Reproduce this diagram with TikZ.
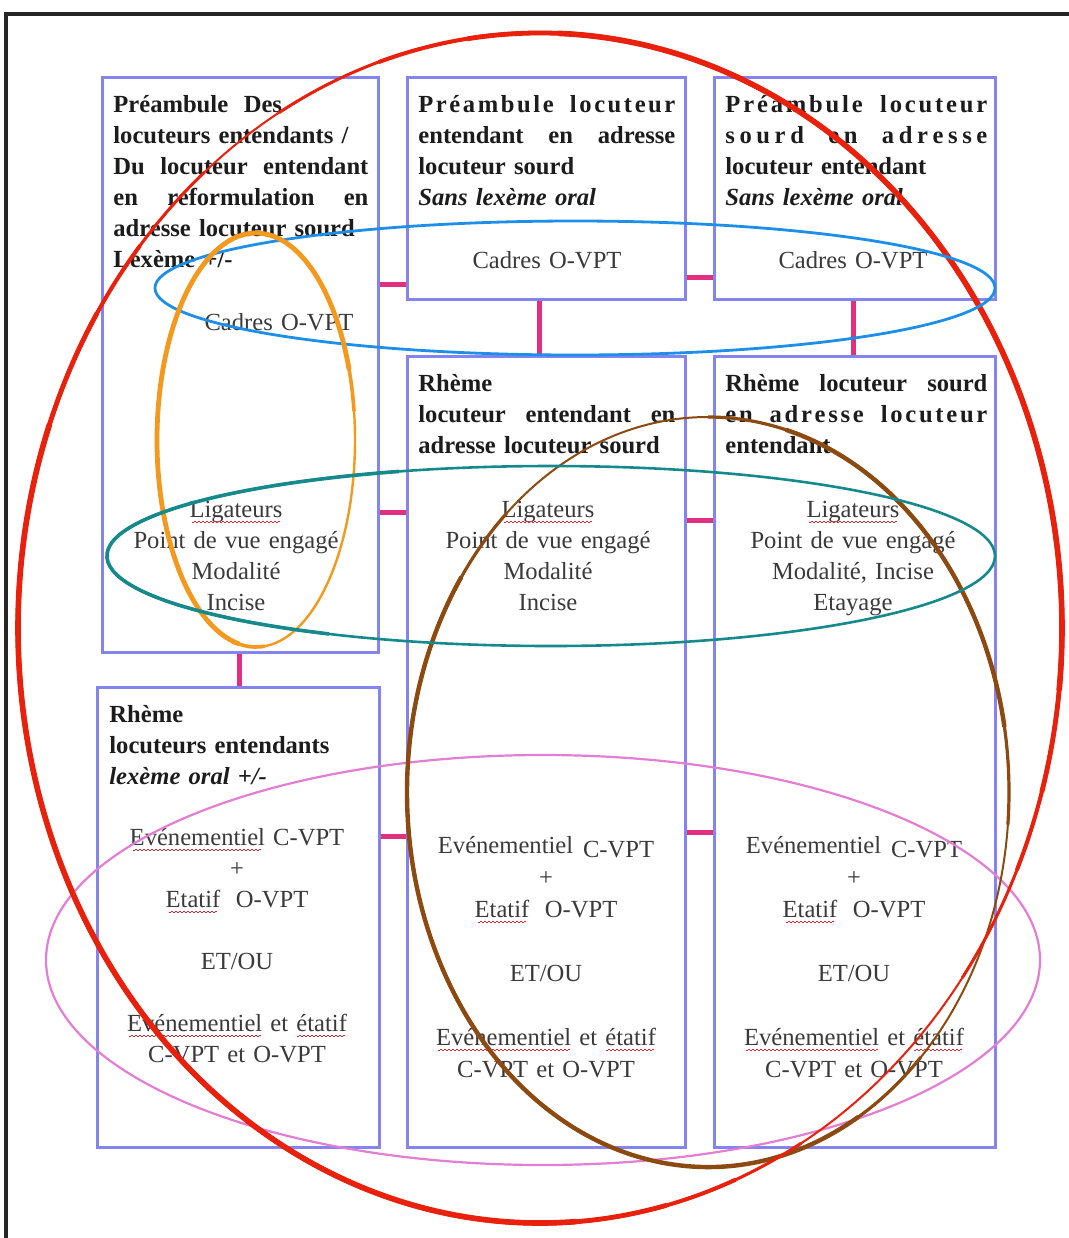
\documentclass[tikz,border=0pt]{standalone}
\usepackage{fontspec}
\setmainfont{Liberation Serif}
\definecolor{boxc}{HTML}{8484F0}
\definecolor{conn}{HTML}{E0307F}
\definecolor{sqred}{HTML}{E0202A}
\definecolor{headc}{HTML}{1C1C1C}
\definecolor{bodyc}{HTML}{3A3A3A}
\definecolor{redc}{HTML}{E8200C}
\definecolor{bluec}{HTML}{1E8FE8}
\definecolor{orangec}{HTML}{F39A1E}
\definecolor{tealc}{HTML}{15898C}
\definecolor{brownc}{HTML}{8C4A10}
\definecolor{pinkc}{HTML}{E47DD4}
\newsavebox\sqbox
\newcommand\sqw[1]{\leavevmode\sbox\sqbox{#1}\rlap{\usebox\sqbox}{\color{sqred}\leaders\hbox to 2pt{\rule[-2.6pt]{1pt}{0.35pt}\rule[-2.1pt]{1pt}{0.35pt}}\hskip\wd\sqbox}}
\newcommand\jl[1]{\leavevmode\hbox to\hsize{#1}}
\newcommand\ls{\hskip0pt plus1fil\relax}
\newcommand\ws{\hskip3pt plus4fil\relax}
\newcommand\earc[8]{\draw[#1,line width=#2] (#3,#4) ++(#7:#5 and #6) arc[start angle=#7,end angle=#8,x radius=#5,y radius=#6];}
\begin{document}
\begin{tikzpicture}[x=0.5pt,y=-0.5pt,
  boxst/.style={draw=boxc,line width=1.5pt,fill=white,inner sep=0pt},
  linkst/.style={draw=conn,line width=2.5pt},
  txthead/.style={anchor=base west,inner sep=0pt,align=left,text=headc,font=\fontsize{12.3}{15.5}\selectfont\bfseries},
  txtbody/.style={anchor=base,inner sep=0pt,align=center,text width=140pt,text=bodyc,font=\fontsize{12.3}{15.5}\selectfont}]
\fill[white] (0,0) rectangle (1069,1238);
\useasboundingbox (0,0) rectangle (1069,1238);
\draw[line width=1.6pt,black!85] (6,1300) -- (6,14) -- (1100,14);
% boxes
\node[boxst,minimum width=138pt,minimum height=287.5pt] (b1) at (240,364.5) {};
\node[boxst,minimum width=139pt,minimum height=111pt] (b2) at (546,188) {};
\node[boxst,minimum width=140.5pt,minimum height=111pt] (b3) at (854.5,188) {};
\node[boxst,minimum width=139pt,minimum height=395.5pt] (b4) at (546,751.5) {};
\node[boxst,minimum width=140.5pt,minimum height=395.5pt] (b5) at (854.5,751.5) {};
\node[boxst,minimum width=141pt,minimum height=230pt] (b6) at (238,917) {};
% connectors
\draw[linkst] (b1.east |- 0,284) -- (b2.west |- 0,284);
\draw[linkst] (b2.east |- 0,277) -- (b3.west |- 0,277);
\draw[linkst] (b2.south -| 539,0) -- (b4.north -| 539,0);
\draw[linkst] (b3.south -| 853,0) -- (b5.north -| 853,0);
\draw[linkst] (b1.east |- 0,512) -- (b4.west |- 0,512);
\draw[linkst] (b4.east |- 0,520) -- (b5.west |- 0,520);
\draw[linkst] (b1.south -| 239,0) -- (b6.north -| 239,0);
\draw[linkst] (b6.east |- 0,836) -- (b4.west |- 0,836);
\draw[linkst] (b4.east |- 0,832) -- (b5.west |- 0,832);
% headings
\node[txthead,text width=127.5pt] (h1) at (113,112) {Préambule\hspace{0.3em} Des\\ locuteurs entendants /\\ \jl{Du\hfill locuteur\hfill entendant}\\ \jl{en\hfill reformulation\hfill en}\\ adresse locuteur sourd\\ Lexème +/-};
\node[txthead,text width=128.5pt] (h2) at (418,112) {\jl{P\ls r\ls é\ls a\ls m\ls b\ls u\ls l\ls e\ws l\ls o\ls c\ls u\ls t\ls e\ls u\ls r}\\ \jl{entendant\hfill en\hfill adresse}\\ locuteur sourd\\ \textit{Sans lexème oral}};
\node[txthead,text width=131pt] (h3) at (725,112) {\jl{P\ls r\ls é\ls a\ls m\ls b\ls u\ls l\ls e\ws l\ls o\ls c\ls u\ls t\ls e\ls u\ls r}\\ \jl{s\ls o\ls u\ls r\ls d\ws e\ls n\ws a\ls d\ls r\ls e\ls s\ls s\ls e}\\ locuteur entendant\\ \textit{Sans lexème oral}};
\node[txthead,text width=128.5pt] (h4) at (418,391) {Rhème\\ \jl{locuteur\hfill entendant\hfill en}\\ adresse locuteur sourd};
\node[txthead,text width=131pt] (h5) at (725,391) {\jl{Rhème\hfill locuteur\hfill sourd}\\ \jl{e\ls n\ws a\ls d\ls r\ls e\ls s\ls s\ls e\ws l\ls o\ls c\ls u\ls t\ls e\ls u\ls r}\\ entendant};
\node[txthead,text width=132pt] (h6) at (109,722) {Rhème\\ locuteurs entendants\\ \textit{lexème oral +/-}};
% cadres
\node[txtbody] (c1) at (279,330) {Cadres O-VPT};
\node[txtbody] (c2) at (547,268) {Cadres O-VPT};
\node[txtbody] (c3) at (853,268) {Cadres O-VPT};
% ligateurs
\node[txtbody] (l1) at (236,517) {\sqw{Ligateurs}\\ Point de vue engagé\\ Modalité\\ Incise};
\node[txtbody] (l4) at (548,517) {\sqw{Ligateurs}\\ Point de vue engagé\\ Modalité\\ Incise};
\node[txtbody] (l5) at (853,517) {\sqw{Ligateurs}\\ Point de vue engagé\\ Modalité, Incise\\ Etayage};
% evenementiel
\node[txtbody] (e6) at (237,845) {\sqw{Evénementiel} C-VPT\\ +\\ \sqw{Etatif}\hspace{0.3em} O-VPT\\[15.5pt] ET/OU\\[15.5pt] \sqw{Evénementiel} et \sqw{étatif}\\ C-VPT et O-VPT};
\node[txtbody,font=\fontsize{12.3}{16}\selectfont] (e4) at (546,853) {Evénementiel\hspace{0.4em}\raisebox{-2pt}{C-VPT}\\ +\\ \sqw{Etatif}\hspace{0.3em} O-VPT\\[16pt] ET/OU\\[16pt] \sqw{Evénementiel} et \sqw{étatif}\\ C-VPT et O-VPT};
\node[txtbody,font=\fontsize{12.3}{16}\selectfont] (e5) at (854,853) {Evénementiel\hspace{0.4em}\raisebox{-2pt}{C-VPT}\\ +\\ \sqw{Etatif}\hspace{0.3em} O-VPT\\[16pt] ET/OU\\[16pt] \sqw{Evénementiel} et \sqw{étatif}\\ C-VPT et O-VPT};
% ellipses
\draw[pinkc,line width=1.1pt] (543,960) ellipse[x radius=497,y radius=205];
\draw[brownc,line width=1pt] (708,792) ellipse[x radius=301,y radius=375];
\earc{brownc}{1.6pt}{708}{792}{301}{375}{-90}{5}
\earc{brownc}{2.2pt}{708}{792}{301}{375}{-75}{-10}
\earc{brownc}{1.6pt}{708}{792}{301}{375}{45}{228}
\earc{brownc}{2.2pt}{708}{792}{301}{375}{60}{215}
\draw[redc,line width=1pt] (540,628) ellipse[x radius=522,y radius=595];
\earc{redc}{1.5pt}{540}{628}{522}{595}{-120}{36}
\earc{redc}{2pt}{540}{628}{522}{595}{-108}{24}
\earc{redc}{2.4pt}{540}{628}{522}{595}{-98}{16}
\earc{redc}{2.8pt}{540}{628}{522}{595}{-88}{6}
\earc{redc}{1.5pt}{540}{628}{522}{595}{60}{230}
\earc{redc}{2pt}{540}{628}{522}{595}{68}{220}
\earc{redc}{2.4pt}{540}{628}{522}{595}{76}{212}
\earc{redc}{2.8pt}{540}{628}{522}{595}{86}{200}
\draw[bluec,line width=1.4pt] (575,288) ellipse[x radius=420,y radius=67];
\draw[orangec,line width=1.2pt] (256,440) ellipse[x radius=99,y radius=207];
\earc{orangec}{1.8pt}{256}{440}{99}{207}{85}{352}
\earc{orangec}{2.4pt}{256}{440}{99}{207}{100}{340}
\draw[tealc,line width=1.3pt] (551,556) ellipse[x radius=444,y radius=90];
\earc{tealc}{1.8pt}{551}{556}{444}{90}{120}{250}
\end{tikzpicture}
\end{document}
